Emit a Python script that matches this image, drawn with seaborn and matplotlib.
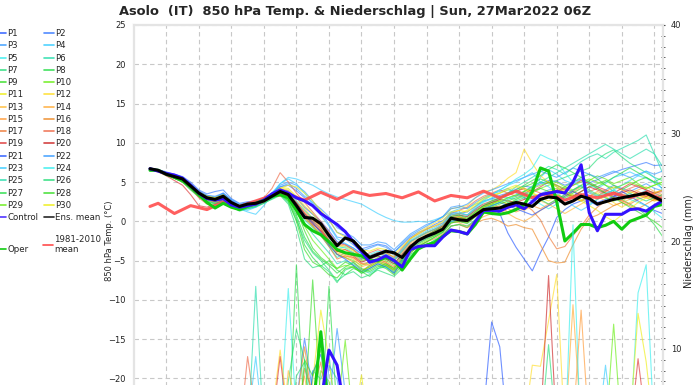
import pandas as pd
import seaborn as sns
import matplotlib.pyplot as plt
from matplotlib.lines import Line2D
from matplotlib.ticker import MultipleLocator

# time axis, 6-hourly steps from the run start (hours)
hours = list(range(0, 385, 6))
clim_hours = [0] + list(range(6, 384, 12))
grid_hours = list(range(12, 384, 24))

ens_mean = [6.7, 6.5, 6.0, 5.7, 5.4, 4.5, 3.6, 3.0, 2.8, 3.2,
            2.4, 1.9, 2.2, 2.3, 2.6, 3.2, 3.8, 3.4, 2.0, 0.5,
            0.4, -0.3, -1.8, -3.1, -2.1, -2.5, -3.6, -4.6, -4.2, -3.8,
            -4.0, -4.6, -3.3, -2.4, -1.9, -1.5, -1.0, 0.4, 0.2, 0.1,
            0.8, 1.5, 1.6, 1.7, 2.1, 2.4, 2.2, 1.9, 2.8, 3.1,
            3.0, 2.2, 2.6, 3.2, 2.9, 2.2, 2.5, 2.8, 3.0, 3.2,
            3.4, 3.6, 3.1, 2.6, 2.6]

control = [6.7, 6.4, 6.1, 5.9, 5.5, 4.6, 3.6, 2.9, 2.7, 2.9,
           2.1, 1.8, 2.0, 2.2, 2.7, 3.5, 4.0, 3.6, 3.0, 2.6,
           2.0, 1.0, 0.3, -0.4, -1.3, -2.6, -3.8, -5.2, -4.9, -4.4,
           -5.0, -5.8, -3.6, -3.2, -3.1, -3.1, -2.0, -1.1, -1.3, -1.6,
           0.0, 1.4, 1.4, 1.3, 1.8, 2.1, 1.6, 2.5, 3.4, 3.6,
           3.8, 3.6, 5.0, 7.2, 1.1, -1.2, 0.9, 0.9, 0.9, 1.5,
           1.6, 1.3, 2.0, 2.6, 2.6]

oper = [6.5, 6.5, 6.0, 5.6, 5.2, 4.4, 3.4, 2.4, 1.7, 2.3,
        1.8, 1.5, 1.9, 2.3, 2.7, 3.2, 3.4, 3.0, 1.4, -0.4,
        -1.2, -1.7, -2.6, -3.6, -4.0, -4.2, -4.4, -5.0, -5.0, -4.6,
        -5.0, -6.2, -4.8, -3.5, -3.0, -2.7, -1.9, -1.2, -1.3, -1.6,
        -0.4, 1.2, 1.0, 0.9, 1.1, 1.5, 2.1, 3.8, 6.8, 6.4,
        2.5, -2.5, -1.5, -0.4, -0.4, -0.8, -0.5, 0.0, -1.0, 0.0,
        0.4, 0.8, 1.9, 2.15, 2.2]

clim = [1.9, 2.3, 1.0, 2.0, 1.5, 2.45, 1.9, 2.6, 3.3, 3.4,
        2.7, 3.7, 2.8, 3.8, 3.3, 3.55, 3.0, 3.75, 2.6, 3.3,
        3.0, 3.85, 3.0, 3.85, 3.0, 3.6, 2.7, 3.4, 3.0, 3.6,
        3.0, 3.7, 2.8]

# P1 .. P30, 850 hPa temperature
member_temp = [
    [6.6, 6.5, 6.2, 5.9, 5.6, 4.8, 3.9, 3.2, 3.0, 3.6, 2.6, 2.0, 2.4, 2.5, 2.9, 3.5, 4.1, 3.9, 3.0,
     1.8, 0.9, 0.0, -1.2, -2.6, -2.9, -3.4, -4.1, -4.6, -4.0, -3.6, -4.3, -5.0, -3.6, -2.5,
     -2.0, -1.6, -1.1, 0.2, 0.4, 0.0, 0.9, 1.6, 1.8, 1.0, -1.5, -3.3,
     -4.8, -6.3, -4.0, -2.0, 0.5, 1.5, 2.2, 2.6, 3.0, 2.4, 2.8, 3.1, 3.4, 3.0, 3.5, 3.8, 3.2, 2.9, 2.8],
    [6.8, 6.6, 6.3, 6.0, 5.7, 5.0, 4.0, 3.5, 3.8, 4.0, 2.9, 2.3, 2.5, 2.6, 3.0, 3.6, 4.4, 4.6, 3.9,
     3.0, 2.0, 1.2, 0.2, -1.4, -1.8, -2.4, -3.5, -3.2, -2.9, -3.1, -3.9, -3.0, -2.0, -1.4,
     -1.0, -0.4, 0.1, 1.1, 1.0, 1.2, 1.9, 2.6, 2.9, 3.3, 3.6, 4.1,
     4.5, 4.3, 4.8, 5.2, 5.1, 4.6, 5.0, 5.4, 4.9, 5.3, 5.8, 6.2, 6.6, 6.9, 7.2, 7.5, 7.1, 7.2, 7.0],
    [6.6, 6.4, 6.1, 5.8, 5.5, 4.6, 3.8, 3.3, 3.1, 3.5, 2.7, 2.1, 2.3, 2.4, 2.8, 3.6, 4.6, 5.0, 4.6,
     3.8, 2.6, 1.2, -0.4, -2.0, -2.2, -3.0, -3.8, -3.4, -3.0, -3.3, -4.0, -2.8, -1.8, -1.2,
     -0.6, 0.0, 0.6, 1.8, 2.0, 1.6, 2.4, 3.0, 3.5, 3.8, 4.2, 3.6,
     3.0, 2.6, 3.5, 4.0, 4.2, 3.4, 3.9, 4.5, 3.6, 3.2, 4.0, 4.6, 4.2, 3.8, 4.3, 4.8, 4.2, 3.9, 3.7],
    [6.7, 6.5, 6.2, 5.9, 5.5, 4.7, 3.7, 3.1, 2.9, 3.4, 2.5, 1.6, 1.2, 0.9, 2.0, 3.4, 4.8, 5.6, 5.4,
     5.0, 4.6, 4.0, 3.5, 3.1, 2.8, 2.5, 2.2, 1.6, 1.0, 0.5, 0.1, -0.1, -0.1, 0.0,
     -0.1, 0.2, 0.6, 1.2, 1.6, 1.7, 2.2, 2.5, 2.8, 3.2, 3.0, 2.8,
     3.4, 4.2, 5.6, 6.6, 6.0, 5.2, 4.8, 5.3, 4.6, 4.2, 4.8, 5.6, 5.9, 6.3, 5.8, 5.5, 4.9, 4.2, 4.0],
    [6.5, 6.4, 6.1, 5.7, 5.3, 4.4, 3.5, 2.9, 2.7, 3.0, 2.2, 1.7, 1.9, 2.0, 2.4, 3.0, 3.6, 3.3, 2.3,
     1.0, 0.0, -0.8, -2.2, -3.6, -3.2, -3.6, -4.5, -4.2, -3.8, -4.1, -4.7, -3.6, -2.5, -2.0,
     -1.5, -1.0, -0.6, 0.9, 0.8, 0.6, 1.5, 2.4, 3.0, 3.6, 4.0, 3.8,
     3.6, 2.8, 2.2, 1.6, 2.2, 2.8, 3.4, 2.8, 2.2, 2.8, 3.4, 4.0, 3.4, 2.8, 3.4, 4.0, 3.6, 3.0, 3.0],
    [6.6, 6.5, 6.1, 5.6, 5.2, 4.2, 3.3, 2.8, 2.6, 2.9, 2.2, 1.5, 1.6, 1.8, 2.3, 2.9, 3.5, 3.1, 1.8,
     0.2, -0.8, -1.8, -3.2, -4.6, -4.0, -4.2, -5.0, -4.8, -4.4, -4.8, -5.4, -4.2, -3.0, -2.6,
     -2.1, -1.6, -1.2, 0.0, 0.2, 0.1, 0.9, 1.8, 2.4, 3.0, 3.6, 4.4,
     5.0, 5.6, 6.3, 7.0, 6.6, 6.0, 6.8, 7.6, 8.2, 8.6, 8.0, 8.8, 9.3, 9.8, 10.3, 11.0, 8.6, 6.2, 6.0],
    [6.5, 6.4, 6.0, 5.5, 5.1, 4.1, 3.2, 2.6, 2.3, 2.6, 1.9, 1.3, 1.6, 1.9, 2.4, 2.8, 3.3, 2.2, -0.8,
     -4.8, -5.9, -5.6, -6.4, -7.8, -6.2, -5.8, -6.6, -6.0, -5.4, -5.8, -6.6, -5.2, -3.8, -3.2,
     -2.6, -2.0, -1.4, -0.2, 0.0, -0.3, 0.6, 1.4, 2.0, 2.4, 3.0, 3.3,
     3.8, 4.5, 5.0, 4.8, 5.2, 5.6, 6.0, 6.4, 6.8, 7.9, 8.6, 9.1, 8.2, 7.4, 6.8, 6.2, 5.6, 5.2, 5.0],
    [6.6, 6.4, 5.9, 5.5, 5.0, 4.0, 3.1, 2.5, 2.2, 2.5, 1.8, 1.4, 1.8, 2.0, 2.5, 3.0, 3.4, 2.6, 0.5,
     -3.0, -4.6, -5.7, -5.0, -6.2, -6.8, -6.0, -6.4, -7.0, -6.0, -5.6, -6.2, -5.4, -4.2, -3.6,
     -3.0, -2.4, -1.8, -0.6, -0.4, -0.8, 0.2, 1.0, 1.4, 1.8, 2.4, 2.6,
     2.2, 1.8, 2.6, 3.2, 3.8, 4.4, 5.0, 5.6, 6.0, 5.4, 4.6, 3.8, 2.8, 2.2, 1.6, 0.8, -0.4, -1.9, -2.7],
    [6.7, 6.5, 6.0, 5.6, 5.2, 4.3, 3.4, 2.8, 2.5, 2.9, 2.1, 1.6, 1.9, 2.1, 2.5, 3.1, 3.6, 3.0, 1.6,
     -1.2, -3.4, -4.6, -5.4, -6.0, -5.2, -5.6, -6.4, -5.6, -5.0, -5.4, -6.0, -4.8, -3.4, -2.8,
     -2.2, -1.8, -1.3, 0.4, 0.6, 0.2, 1.0, 1.8, 2.2, 2.8, 3.4, 3.8,
     4.4, 4.8, 5.4, 5.0, 4.4, 3.6, 3.2, 3.8, 4.4, 4.8, 5.2, 4.6, 4.0, 4.6, 5.2, 5.6, 5.0, 4.6, 4.4],
    [6.6, 6.5, 6.1, 5.7, 5.3, 4.4, 3.5, 2.9, 2.7, 3.1, 2.3, 1.7, 2.0, 2.2, 2.6, 3.2, 3.7, 3.2, 2.1,
     0.6, -0.6, -1.6, -3.0, -4.2, -4.6, -5.0, -5.6, -5.2, -4.6, -5.0, -5.6, -4.4, -3.2, -2.6,
     -2.0, -1.5, -1.0, 0.3, 0.5, 0.3, 1.2, 2.0, 2.4, 2.6, 2.2, 2.8,
     3.2, 3.6, 4.2, 4.6, 5.0, 4.4, 4.0, 4.6, 5.2, 5.8, 5.4, 4.8, 5.2, 5.6, 4.8, 4.2, 4.6, 5.0, 4.8],
    [6.7, 6.6, 6.2, 5.8, 5.5, 4.7, 3.8, 3.2, 3.0, 3.3, 2.5, 2.0, 2.3, 2.4, 2.8, 3.5, 4.3, 4.2, 3.2,
     2.0, 1.0, -0.4, -1.6, -3.0, -3.3, -3.8, -4.4, -4.6, -4.2, -4.0, -4.5, -3.8, -2.6, -1.9,
     -1.4, -1.0, -0.6, 0.6, 1.0, 1.4, 2.2, 3.0, 3.4, 3.6, 4.0, 4.4,
     4.0, 3.6, 3.2, 3.8, 4.2, 3.6, 3.0, 2.6, 3.2, 3.6, 3.0, 2.6, 3.2, 3.8, 3.4, 3.0, 2.6, 2.8, 2.6],
    [6.6, 6.4, 6.0, 5.6, 5.3, 4.5, 3.6, 3.1, 2.9, 3.3, 2.4, 1.8, 2.0, 2.2, 2.6, 3.4, 4.2, 4.0, 3.0,
     1.6, 0.4, -0.6, -2.0, -3.4, -3.6, -4.2, -5.0, -4.6, -4.0, -4.2, -4.8, -3.6, -2.2, -1.4,
     -0.8, -0.2, 0.4, 1.6, 1.8, 2.0, 3.0, 3.8, 4.0, 4.6, 5.5, 6.2,
     9.2, 7.4, 5.8, 5.0, 4.4, 3.8, 3.4, 2.8, 2.4, 2.8, 3.2, 2.4, 1.8, 2.4, 3.0, 3.4, 2.8, 2.4, 2.4],
    [6.6, 6.4, 6.0, 5.6, 5.2, 4.3, 3.4, 2.9, 2.6, 3.0, 2.2, 1.7, 2.0, 2.1, 2.5, 3.1, 3.7, 3.3, 2.0,
     0.8, -0.2, -1.2, -2.6, -4.0, -4.4, -4.8, -5.8, -5.4, -4.8, -5.2, -6.0, -4.6, -3.2, -2.4,
     -1.8, -1.4, -0.8, 0.4, 0.6, 0.4, 1.2, 1.8, 2.2, 2.6, 2.2, 1.8,
     1.4, 2.0, 2.6, 2.2, 1.6, 1.0, 1.6, 2.2, 2.8, 3.2, 2.6, 2.0, 2.4, 2.8, 3.4, 3.0, 2.6, 3.0, 3.0],
    [6.7, 6.5, 6.1, 5.7, 5.4, 4.6, 3.7, 3.0, 2.8, 3.2, 2.4, 1.8, 2.1, 2.3, 2.7, 3.3, 3.9, 3.5, 2.4,
     1.2, 0.2, -0.6, -1.8, -3.2, -3.0, -3.6, -4.6, -4.4, -4.0, -4.4, -5.0, -4.0, -2.8, -2.2,
     -1.6, -1.2, -0.8, 0.2, -0.2, -0.6, 0.0, 0.6, 1.0, 1.4, 1.0, 0.4,
     0.0, 0.6, 1.4, 2.0, 2.6, 3.2, 3.8, 4.4, 3.8, 3.2, 3.8, 4.4, 4.0, 3.6, 4.0, 4.4, 3.8, 3.4, 3.2],
    [6.6, 6.5, 6.1, 5.6, 5.2, 4.4, 3.5, 3.0, 2.7, 3.1, 2.3, 1.8, 2.1, 2.3, 2.7, 3.3, 4.1, 3.8, 2.6,
     1.4, 0.3, -0.8, -2.4, -3.8, -4.2, -4.6, -5.4, -5.6, -5.0, -5.4, -6.2, -5.0, -3.6, -2.8,
     -2.2, -1.8, -1.2, -0.2, 0.0, -0.2, 0.6, 1.2, 1.6, 2.0, 1.6, 1.2,
     1.6, 2.0, 1.6, 2.2, 2.8, 3.4, 3.0, 2.6, 3.2, 3.8, 3.4, 3.0, 2.6, 3.2, 3.8, 3.4, 3.0, 3.4, 3.4],
    [6.5, 6.3, 5.9, 5.5, 5.1, 4.2, 3.3, 2.8, 2.5, 2.9, 2.1, 1.6, 1.9, 2.1, 2.5, 3.1, 3.8, 3.6, 2.4,
     1.0, -0.2, -1.4, -2.8, -4.2, -4.6, -5.2, -6.2, -5.8, -5.2, -5.6, -6.4, -5.4, -4.0, -3.2,
     -2.6, -2.2, -1.6, -0.6, -0.4, -0.8, -0.2, 0.2, 0.4, 0.0, -0.6, -0.4,
     -0.8, -1.0, -3.0, -5.0, -5.3, -5.2, -3.0, -1.0, 0.4, 0.8, 1.4, 2.0, 2.4, 2.0, 1.6, 2.2, 2.8, 3.2, 3.0],
    [6.6, 6.4, 6.0, 5.5, 5.0, 4.1, 3.2, 2.7, 2.4, 2.8, 2.0, 1.6, 1.9, 2.0, 2.4, 3.0, 3.6, 3.2, 1.8,
     0.4, -0.6, -1.8, -3.2, -4.8, -4.4, -4.6, -5.4, -5.2, -4.8, -5.2, -5.8, -4.6, -3.4, -2.6,
     -2.0, -1.4, -0.8, 0.4, 0.6, 0.2, 1.0, 1.6, 2.0, 1.8, 1.2, 1.6,
     2.2, 1.4, 0.2, -1.9, -3.5, -3.2, -1.8, -0.6, 0.8, 1.8, 2.6, 3.0, 2.6, 2.2, 2.8, 3.2, 2.8, 2.6, 2.6],
    [6.7, 6.5, 6.1, 5.7, 5.3, 4.3, 3.0, 2.2, 1.9, 2.6, 2.0, 1.6, 1.9, 2.3, 3.0, 4.2, 6.2, 5.0, 3.6,
     2.4, 1.2, 0.0, -1.4, -2.8, -3.0, -3.6, -4.4, -4.0, -3.6, -4.0, -4.6, -3.4, -2.2, -1.6,
     -1.0, -0.6, -0.2, 1.0, 1.4, 1.8, 2.6, 3.2, 3.6, 4.0, 3.6, 3.2,
     3.6, 4.0, 3.6, 3.2, 3.8, 4.2, 3.8, 3.4, 3.8, 4.2, 3.8, 3.4, 3.8, 4.2, 4.6, 4.0, 3.6, 3.2, 3.0],
    [6.6, 6.3, 5.8, 5.2, 4.6, 3.4, 2.0, 1.8, 2.2, 2.8, 2.2, 1.7, 2.0, 2.2, 2.6, 3.2, 3.8, 3.5, 2.4,
     1.0, 0.0, -1.0, -2.4, -3.8, -3.6, -4.0, -4.8, -4.4, -4.0, -4.4, -5.0, -3.8, -2.6, -2.0,
     -1.4, -1.0, -0.4, 0.8, 1.0, 0.8, 1.6, 2.2, 2.6, 3.0, 3.4, 3.8,
     4.2, 3.8, 4.4, 5.0, 4.6, 4.0, 4.6, 5.2, 4.8, 4.4, 4.0, 3.6, 4.2, 4.8, 4.4, 4.0, 3.6, 3.8, 3.8],
    [6.7, 6.5, 6.0, 5.6, 5.2, 4.4, 3.5, 2.9, 2.7, 3.1, 2.3, 1.8, 2.1, 2.3, 2.7, 3.3, 3.9, 3.4, 2.2,
     0.8, -0.4, -1.2, -2.6, -3.8, -4.0, -4.4, -5.2, -4.8, -4.4, -4.8, -5.4, -4.2, -3.0, -2.4,
     -1.8, -1.2, -0.6, 0.6, 0.8, 0.6, 1.4, 2.0, 2.4, 2.8, 2.6, 2.4,
     2.8, 3.2, 2.8, 3.4, 4.0, 3.6, 3.2, 3.8, 4.4, 4.0, 3.6, 3.2, 3.6, 4.0, 3.6, 3.2, 3.6, 4.0, 4.0],
    [6.7, 6.6, 6.2, 5.8, 5.4, 4.6, 3.7, 3.1, 2.9, 3.4, 2.6, 2.0, 2.2, 2.3, 2.6, 3.2, 3.8, 3.4, 2.2,
     0.8, -0.2, -1.4, -3.0, -4.2, -4.8, -5.6, -6.4, -6.0, -5.4, -5.8, -6.6, -5.0, -3.4, -2.6,
     -2.0, -1.6, -1.0, 0.0, 0.2, 0.0, 0.8, 1.6, 2.0, 2.4, 2.0, 1.6,
     1.2, 0.8, 1.4, 2.0, 2.6, 3.2, 3.8, 3.2, 2.6, 2.0, 2.6, 3.2, 3.8, 3.2, 2.6, 2.0, 1.4, 1.0, 1.0],
    [6.6, 6.4, 6.0, 5.7, 5.4, 4.6, 3.8, 3.3, 3.2, 3.6, 2.8, 2.2, 2.4, 2.5, 2.9, 3.6, 4.4, 4.8, 4.2,
     3.2, 2.4, 1.6, 0.6, -0.8, -1.4, -2.0, -3.0, -3.0, -2.6, -2.8, -3.6, -2.6, -1.6, -1.0,
     -0.4, 0.0, 0.6, 1.6, 1.8, 2.2, 3.0, 3.6, 4.0, 4.4, 4.8, 5.2,
     5.6, 6.0, 6.4, 6.0, 5.6, 6.2, 6.8, 6.4, 6.0, 5.6, 6.0, 6.4, 6.0, 5.6, 6.0, 6.4, 6.0, 6.4, 6.4],
    [6.6, 6.4, 6.0, 5.6, 5.2, 4.4, 3.5, 3.0, 2.8, 3.2, 2.4, 1.6, 1.4, 1.8, 2.6, 3.6, 4.8, 5.4, 4.8,
     3.6, 2.2, 0.8, -0.6, -2.2, -2.8, -3.4, -4.2, -4.4, -4.0, -4.2, -4.8, -3.6, -2.4, -1.8,
     -1.2, -0.8, -0.2, 1.0, 1.2, 0.8, 1.8, 2.8, 3.4, 4.0, 4.6, 5.0,
     5.6, 6.2, 5.0, 4.4, 3.6, 2.8, 2.0, 1.4, 2.0, 2.8, 3.4, 4.0, 4.6, 5.2, 5.8, 6.4, 5.6, 4.0, 1.0],
    [6.7, 6.5, 6.1, 5.8, 5.4, 4.5, 3.6, 3.0, 2.8, 3.2, 2.4, 1.8, 2.1, 2.2, 2.6, 3.2, 3.9, 3.6, 2.6,
     1.4, 0.4, -0.4, -1.8, -3.2, -3.4, -4.0, -4.8, -4.6, -4.2, -4.4, -5.0, -3.8, -2.6, -2.0,
     -1.4, -1.0, -0.4, 0.8, 1.0, 0.8, 1.6, 2.6, 3.4, 4.0, 4.6, 5.4,
     6.0, 6.8, 8.5, 8.0, 7.6, 6.2, 5.0, 4.4, 3.8, 3.2, 3.6, 4.0, 3.4, 2.8, 2.4, 2.0, 1.2, 0.4, 0.2],
    [6.6, 6.5, 6.1, 5.6, 5.2, 4.3, 3.4, 2.9, 2.7, 3.0, 2.2, 1.7, 2.0, 2.1, 2.5, 3.0, 3.5, 3.0, 1.6,
     -0.2, -1.6, -2.8, -4.0, -5.4, -5.0, -5.4, -6.2, -6.6, -6.0, -5.8, -6.4, -5.0, -3.6, -2.8,
     -2.2, -1.8, -1.2, 0.0, 0.2, 0.0, 0.8, 1.6, 2.0, 2.4, 2.8, 3.2,
     3.8, 4.4, 5.0, 5.6, 6.2, 6.8, 7.4, 8.0, 8.6, 9.2, 9.8, 9.2, 8.6, 8.0, 8.6, 9.2, 8.6, 7.0, 6.8],
    [6.5, 6.4, 6.0, 5.5, 5.0, 4.1, 3.2, 2.6, 2.3, 2.6, 1.9, 1.4, 1.7, 1.9, 2.3, 2.9, 3.4, 2.4, 0.2,
     -2.4, -4.0, -5.0, -6.2, -7.6, -6.8, -6.4, -7.2, -6.8, -6.2, -6.6, -7.0, -6.0, -4.4, -3.6,
     -3.0, -2.4, -1.8, -0.6, -0.4, -0.6, 0.2, 1.0, 1.4, 1.8, 2.2, 2.6,
     3.0, 3.4, 2.8, 2.2, 2.8, 3.4, 4.0, 4.6, 4.0, 3.4, 3.0, 2.6, 3.0, 3.6, 3.0, 2.6, 3.0, 3.4, 3.4],
    [6.6, 6.5, 6.0, 5.6, 5.2, 4.3, 3.4, 2.8, 2.6, 3.0, 2.1, 1.6, 1.9, 2.1, 2.6, 3.2, 3.6, 2.8, 0.8,
     -2.0, -3.8, -4.8, -5.6, -6.6, -5.8, -5.2, -6.0, -6.4, -5.8, -5.4, -6.0, -4.8, -3.2, -2.4,
     -1.8, -1.2, -0.8, 0.6, 0.8, 0.4, 1.2, 2.0, 2.6, 3.0, 3.6, 4.0,
     4.6, 5.2, 5.8, 6.6, 7.2, 6.8, 6.2, 5.6, 5.0, 4.4, 5.0, 5.6, 6.2, 6.8, 6.2, 5.6, 5.0, 5.6, 5.6],
    [6.7, 6.5, 6.1, 5.6, 5.2, 4.4, 3.5, 2.9, 2.6, 3.0, 2.2, 1.7, 2.0, 2.2, 2.6, 3.2, 3.6, 2.6, 0.0,
     -3.6, -5.2, -5.8, -6.8, -7.2, -6.0, -5.8, -6.6, -6.2, -5.6, -6.0, -6.8, -5.6, -4.0, -3.2,
     -2.6, -2.0, -1.4, -0.2, 0.0, -0.2, 0.6, 1.4, 1.8, 2.2, 2.6, 3.0,
     3.4, 3.8, 4.2, 3.8, 3.4, 3.0, 3.6, 4.2, 4.8, 4.2, 3.6, 3.0, 2.4, 1.8, 1.2, 0.6, 0.0, -0.8, -1.2],
    [6.6, 6.4, 6.0, 5.6, 5.3, 4.4, 3.5, 2.9, 2.7, 3.1, 2.3, 1.8, 2.1, 2.3, 2.7, 3.3, 3.8, 3.2, 1.8,
     -0.6, -2.4, -3.6, -4.8, -6.0, -5.6, -5.8, -6.4, -5.8, -5.2, -5.6, -6.2, -5.2, -3.8, -3.0,
     -2.4, -1.8, -1.2, 0.2, 0.4, 0.2, 1.0, 1.8, 2.2, 2.6, 3.0, 3.4,
     3.8, 4.2, 4.6, 5.0, 4.6, 4.2, 4.6, 5.0, 5.4, 5.0, 4.6, 4.2, 4.6, 5.0, 4.6, 4.2, 4.6, 5.0, 5.0],
    [6.7, 6.5, 6.1, 5.7, 5.4, 4.6, 3.7, 3.2, 3.0, 3.4, 2.5, 1.9, 2.2, 2.4, 2.8, 3.4, 4.2, 4.6, 4.4,
     3.6, 2.6, 1.4, 0.2, -1.4, -2.0, -2.8, -3.6, -3.8, -3.4, -3.6, -4.2, -3.2, -2.2, -1.6,
     -1.0, -0.6, 0.0, 1.2, 1.4, 1.2, 2.0, 2.8, 3.2, 3.6, 4.2, 4.6,
     4.2, 3.6, 3.0, 2.6, 3.2, 3.8, 3.2, 2.6, 2.0, 1.4, 0.6, 0.0, 0.8, 1.6, 2.4, 3.0, 3.6, 4.0, 4.0],
]

# 6-hourly precipitation (mm), only the steps with rain, P1 .. P30
member_rain = [
    {246: 4.0, 252: 12.5, 258: 10.2, 264: 2.0},
    {108: 5.0, 114: 11.0, 120: 6.0},
    {132: 5.0, 138: 11.9, 144: 6.0},
    {72: 3.0, 78: 9.3, 84: 2.0},
    {96: 3.0, 102: 15.6, 108: 4.0, 354: 2.0, 360: 15.2, 366: 17.8, 372: 2.0},
    {120: 8.0, 126: 7.2, 132: 9.5, 138: 3.0},
    {102: 7.0, 108: 11.8, 114: 9.0, 120: 5.0},
    {102: 2.0, 108: 17.8, 114: 3.0},
    {114: 4.0, 120: 16.4, 126: 5.0},
    {126: 8.0, 132: 7.0, 138: 2.0, 336: 2.0, 342: 12.3, 348: 2.0},
    {114: 2.0, 120: 7.0, 126: 13.6, 132: 9.0, 138: 3.0},
    {90: 4.0, 96: 9.9, 102: 4.0, 276: 3.0, 282: 8.5, 288: 8.4, 294: 12.6, 300: 16.9, 306: 2.0},
    {102: 8.0, 108: 5.0, 114: 7.5, 120: 3.0},
    {306: 2.0, 312: 14.1, 318: 3.0},
    {312: 3.0, 318: 13.6, 324: 2.0},
    {108: 5.0, 114: 10.2, 120: 5.0},
    {114: 8.2, 120: 6.0, 126: 8.8, 132: 3.0},
    {66: 2.0, 72: 9.3, 78: 4.0},
    {90: 3.0, 96: 9.3, 102: 3.0, 354: 2.0, 360: 9.1, 366: 3.0},
    {288: 3.0, 294: 16.8, 300: 2.0},
    {120: 7.8, 126: 9.5, 132: 6.0},
    {132: 8.5, 138: 7.2, 144: 3.0},
    {330: 2.0, 336: 8.5, 342: 2.0},
    {306: 0.5, 312: 21.5, 318: 0.5},
    {72: 1.5, 78: 15.8, 84: 2.0},
    {108: 7.5, 114: 8.8, 120: 3.0, 288: 2.0, 294: 10.4, 300: 2.0},
    {126: 3.0, 132: 15.8, 138: 4.0},
    {114: 9.0, 120: 7.5, 126: 10.0, 132: 3.0},
    {138: 4.0, 144: 10.8, 150: 3.0},
    {150: 3.0, 156: 7.6, 162: 2.0, 354: 3.0, 360: 13.3, 366: 8.8, 372: 2.0},
]
control_rain = {126: 5.0, 132: 9.9, 138: 8.5, 144: 4.0}
oper_rain = {120: 4.0, 126: 11.6, 132: 4.0}

members = ['P%d' % (i + 1) for i in range(30)]
pal20 = ['#2255ff', '#3377ff', '#3399ff', '#33ccff', '#33eeee', '#22ddaa', '#22dd77', '#22dd44',
         '#33dd22', '#66ee11', '#eeee11', '#ffdd22', '#ffbb33', '#ffaa33', '#ff9933', '#ee8822',
         '#ee7733', '#ee6644', '#dd3333', '#cc2222']
member_colors = pal20 + [pal20[i] for i in (0, 2, 3, 4, 5, 6, 7, 8, 9, 10)]
palette = dict(zip(members, member_colors))

c_control = '#3311ff'
c_oper = '#11cc11'
c_clim = '#ff4d4d'

rows = []
for name, temps, rain in zip(members, member_temp, member_rain):
    for h, t in zip(hours, temps):
        rows.append((name, h, t, rain.get(h, 0.0)))
df = pd.DataFrame(rows, columns=['member', 'hour', 'temp', 'rain'])

main = pd.DataFrame({'hour': hours, 'mean': ens_mean, 'control': control, 'oper': oper,
                     'control_rain': [control_rain.get(h, 0.0) for h in hours],
                     'oper_rain': [oper_rain.get(h, 0.0) for h in hours]})
cl = pd.DataFrame({'hour': clim_hours, 'clim': clim})

sns.set_style('white')
plt.rcParams['font.family'] = ['DejaVu Sans']

fig = plt.figure(figsize=(6.96, 3.85), dpi=100)
# the axes run below the bottom edge of the picture (it is cut off there)
ax = fig.add_axes([134 / 696, 1 - 457 / 385, 529 / 696, 432 / 385])
ax2 = ax.twinx()

sns.lineplot(data=df, x='hour', y='temp', hue='member', palette=palette, estimator=None,
             lw=0.8, alpha=0.65, legend=False, ax=ax)
sns.lineplot(data=cl, x='hour', y='clim', color=c_clim, lw=2.2, alpha=0.9, ax=ax)
sns.lineplot(data=main, x='hour', y='oper', color=c_oper, lw=2.2, ax=ax)
sns.lineplot(data=main, x='hour', y='control', color=c_control, lw=2.2, ax=ax)
sns.lineplot(data=main, x='hour', y='mean', color='black', lw=2.2, ax=ax)

sns.lineplot(data=df, x='hour', y='rain', hue='member', palette=palette, estimator=None,
             lw=0.8, alpha=0.65, legend=False, ax=ax2)
sns.lineplot(data=main, x='hour', y='oper_rain', color=c_oper, lw=2.2, ax=ax2)
sns.lineplot(data=main, x='hour', y='control_rain', color=c_control, lw=2.2, ax=ax2)

ax.set_xlim(-11.8, 378.4)
ax.set_ylim(-30, 25)
ax2.set_ylim(0, 40)
ax.set_xticks(grid_hours)
ax.set_yticks(range(-30, 26, 5))
ax.tick_params(axis='x', length=0, labelbottom=False)
ax.tick_params(axis='y', length=0, labelsize=6, pad=6, colors='#222222')
ax.grid(True, ls=(0, (4, 3)), color='#c8c8c8', lw=0.8)
ax.set_xlabel('')
ax.set_ylabel('850 hPa Temp. (°C)', fontsize=6, labelpad=-4)

ax2.set_yticks([0, 10, 20, 30, 40])
ax2.yaxis.set_minor_locator(MultipleLocator(1))
ax2.tick_params(axis='y', which='both', length=3, direction='inout', color='#444444',
                labelsize=6, pad=4)
ax2.grid(False)
ax2.set_ylabel('Niederschlag (mm)', fontsize=7, labelpad=2)
for a in (ax, ax2):
    for sp in a.spines.values():
        sp.set_color('#e4e4e4')
        sp.set_linewidth(1.5)

fig.text(355.5 / 696, 1 - 11 / 385, 'Asolo  (IT)  850 hPa Temp. & Niederschlag | Sun, 27Mar2022 06Z',
         ha='center', va='center', fontsize=9.4, fontweight='bold')

# legend: odd members + Control in the first column, even members + Ens. mean in the second
lw_leg = 1.2
col1 = [(members[i], member_colors[i]) for i in range(0, 30, 2)] + [('Control', c_control)]
col2 = [(members[i], member_colors[i]) for i in range(1, 30, 2)] + [('Ens. mean', 'black')]
entries = col1 + col2
handles = [Line2D([], [], color=c, lw=lw_leg, alpha=0.85) for _, c in entries]
labels = [n for n, _ in entries]
leg_kw = dict(frameon=False, fontsize=6.2, handlelength=1.15, handletextpad=0.12,
              borderpad=0, borderaxespad=0, labelspacing=0.38, loc='upper left',
              bbox_transform=fig.transFigure)
fig.legend(handles, labels, ncol=2, columnspacing=0.7, bbox_to_anchor=(-3.9 / 696, 1 - 29 / 385), **leg_kw)
fig.legend([Line2D([], [], color=c_oper, lw=lw_leg)], ['Oper'],
           bbox_to_anchor=(-3.9 / 696, 1 - 245 / 385), **leg_kw)
fig.legend([Line2D([], [], color=c_clim, lw=lw_leg)], ['1981-2010\nmean'],
           bbox_to_anchor=(43 / 696, 1 - 235 / 385), **leg_kw)

fig.savefig('out.png', dpi=100)
